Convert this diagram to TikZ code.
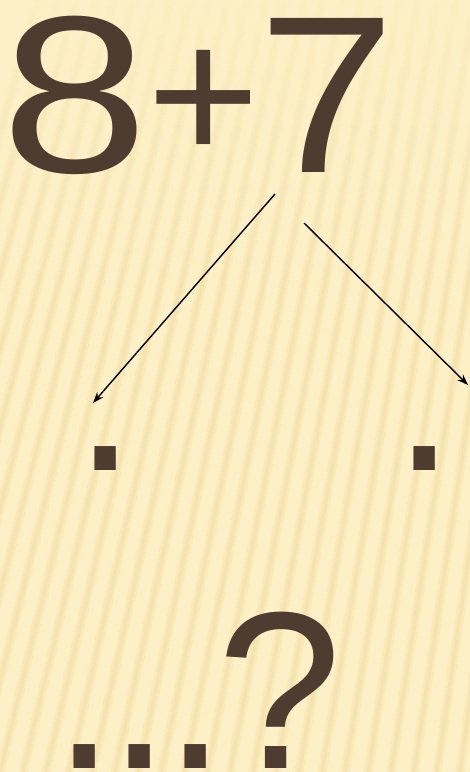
\documentclass[tikz,border=0pt]{standalone}
\usepackage{fontspec}
\setmainfont{Liberation Sans}
\usetikzlibrary{arrows.meta,fadings}
\definecolor{bgc}{HTML}{FDF0C6}
\definecolor{stripec}{HTML}{EDD48E}
\definecolor{txtc}{HTML}{4E3C30}
\tikzfading[name=fadedown, top color=transparent!0, bottom color=transparent!100]
\tikzset{
  glyph/.style={anchor=base, inner sep=0pt, outer sep=0pt, text=txtc, font=\fontsize{224}{224}\selectfont},
  dotglyph/.style={glyph},
  arr/.style={draw=black, line width=1.4pt, -{Stealth[length=11pt,width=8pt]}},
  stripewide/.style={draw=stripec, line width=9pt, opacity=0.18, line cap=butt},
  stripemid/.style={draw=stripec, line width=4pt, opacity=0.25, line cap=butt}
}
\begin{document}
\begin{tikzpicture}[x=1pt,y=-1pt]
\useasboundingbox (0,0) rectangle (470,772);
\fill[bgc] (0,0) rectangle (470,772);
\begin{scope}
\clip (0,0) rectangle (470,772);
\foreach \i in {-8,...,22} {
  \pgfmathsetmacro{\off}{190-4*\i}
  \draw[stripewide] (\i*23,772) -- (\i*23+\off,0);
  \draw[stripemid] (\i*23,772) -- (\i*23+\off,0);
}
\fill[bgc, path fading=fadedown, opacity=0.85] (0,0) rectangle (470,300);
\end{scope}
% title
\node[glyph] (eight) at (75,172) {\scalebox{1.18}[1]{8}};
\node[glyph] (plus) at (204,161) {\scalebox{0.86}{+}};
\node[glyph] (seven) at (327,172) {\scalebox{1.1}[1]{7}};
% arrow endpoints
\coordinate (ls) at (275,194);
\coordinate (le) at (93,403);
\coordinate (rs) at (304,223);
\coordinate (re) at (468,385);
\draw[arr] (ls) -- (le);
\draw[arr] (rs) -- (re);
% dots
\node[dotglyph] (ldot) at (106,470) {.};
\node[dotglyph] (rdot) at (424.5,470) {.};
% bottom
\node[glyph, anchor=base west] (quest) at (53,768) {.\kern-6.7pt.\kern-6.7pt.\kern-9pt?};
\end{tikzpicture}
\end{document}
